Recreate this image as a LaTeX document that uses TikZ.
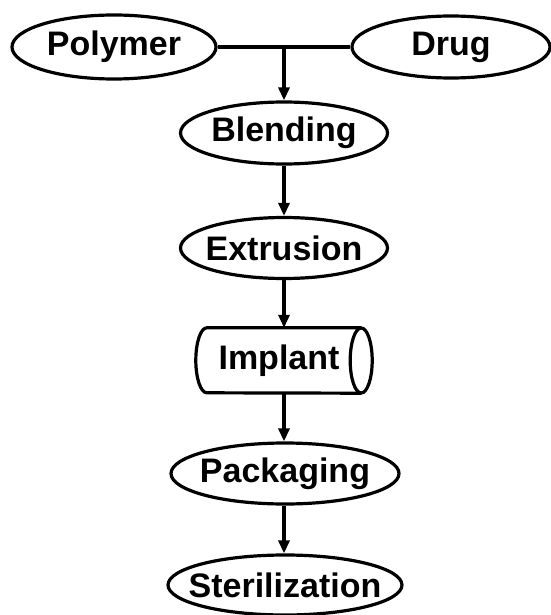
\documentclass[tikz,border=0pt]{standalone}
\usepackage{fontspec}
\setmainfont{Liberation Sans}
\usetikzlibrary{shapes.geometric,arrows.meta}
\tikzset{
  txt/.style={font=\fontsize{34}{40}\selectfont\bfseries},
  oval/.style={ellipse, draw, line width=3.2pt, inner sep=0pt, txt},
  conn/.style={line width=3.2pt},
  arr/.style={line width=3.2pt, -{Triangle[length=13pt,width=11pt]}},
}
\begin{document}
\begin{tikzpicture}[x=1pt,y=-1pt]
\useasboundingbox (0,0) rectangle (550,615);
\node[oval, minimum width=204pt, minimum height=64pt] (Polymer) at (114,47) {\makebox[0pt]{Polymer}};
\node[oval, minimum width=198pt, minimum height=62pt] (Drug) at (451,47) {\makebox[0pt]{Drug}};
\node[oval, minimum width=207pt, minimum height=62pt] (Blending) at (284,133) {\makebox[0pt]{Blending}};
\node[oval, minimum width=207pt, minimum height=61pt] (Extrusion) at (284,248) {\makebox[0pt]{Extrusion}};
\node[draw=none, inner sep=0pt, minimum width=154pt, minimum height=65pt, txt] (Implant) at (284,360.5) {\makebox[0pt]{Implant\hspace{10pt}}};
\node[oval, minimum width=228pt, minimum height=61pt] (Packaging) at (285,473.5) {\makebox[0pt]{Packaging}};
\node[oval, minimum width=234pt, minimum height=60pt] (Sterilization) at (285,585) {\makebox[0pt]{Sterilization}};
% cylinder
\draw[conn] (Implant.north east) -- (Implant.north west)
  arc[start angle=90, end angle=270, x radius=11pt, y radius=32.5pt]
  -- (Implant.south east);
\draw[conn] (Implant.east) ellipse[x radius=11pt, y radius=32.5pt];
% connectors
\draw[conn] (Polymer.east) -- (Drug.west);
\coordinate (j) at (284,47);
\draw[arr] (j) -- (Blending.north);
\draw[arr] (Blending.south) -- (Extrusion.north);
\draw[arr] (Extrusion.south) -- (Implant.north);
\draw[arr] (Implant.south) -- (Packaging.north -| Implant.south);
\draw[arr] (Packaging.south -| Implant.south) -- (Sterilization.north -| Implant.south);
\end{tikzpicture}
\end{document}
